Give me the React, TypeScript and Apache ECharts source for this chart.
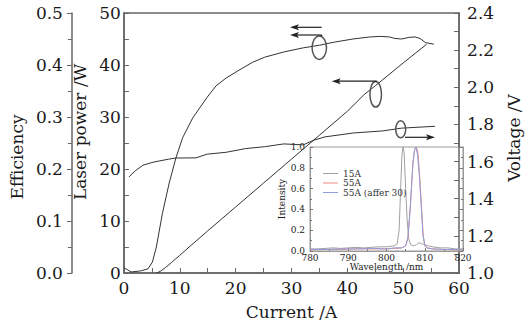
import React, { useEffect, useRef } from "react";
import * as echarts from "echarts";

const FONT = "DejaVu Serif";
const AXIS = "#666";
const TXT = "#1a1a1a";

// Main chart: laser power vs current
const powerCurrent = [5.8, 6.5, 7.5, 8.5, 10, 12, 15, 20, 25, 30, 35, 40, 43, 45, 50, 54.2];
const powerWatts = [0, 0.3, 1.1, 2.0, 3.4, 5.3, 8.1, 12.7, 17.3, 21.9, 26.5, 31.1, 34.3, 36.0, 40.4, 44.0];

// Efficiency vs current
const effCurrent = [0, 0.5, 1.3, 3, 4.3, 5.1, 5.8, 6.9, 8.1, 9.3, 10.5, 12.3, 14.9, 16.5, 18.3, 20.6, 23, 25.2, 28.6, 32.1, 35, 37.7, 41, 44.1, 46, 47.5, 48.5, 49.7, 51, 52.1, 53, 54, 55.5];
const effValues = [0.01, 0.007, 0.002, 0.004, 0.008, 0.021, 0.05, 0.115, 0.173, 0.221, 0.26, 0.298, 0.338, 0.36, 0.375, 0.39, 0.405, 0.415, 0.425, 0.433, 0.438, 0.444, 0.45, 0.454, 0.455, 0.454, 0.451, 0.45, 0.453, 0.454, 0.451, 0.443, 0.44];

// Voltage vs current
const voltCurrent = [0.9, 2, 3.4, 5, 6.3, 8, 9.3, 12.9, 14.9, 18.3, 21.8, 25.2, 28.6, 32.1, 34, 36, 41.1, 46.3, 49.7, 55.7];
const voltValues = [1.517, 1.55, 1.58, 1.595, 1.603, 1.613, 1.619, 1.62, 1.64, 1.65, 1.67, 1.68, 1.695, 1.69, 1.715, 1.733, 1.754, 1.765, 1.78, 1.79];

// Inset spectra
const wl15 = [780, 782, 784, 786, 788, 790, 792, 794, 796, 798, 800, 801, 802, 802.8, 803.3, 803.7, 804.0, 804.3, 804.6, 805.0, 805.4, 805.8, 806.3, 807, 807.8, 808.5, 809.2, 810, 811, 812, 814, 816, 818, 820];
const int15 = [0.02, 0.02, 0.025, 0.03, 0.025, 0.03, 0.035, 0.03, 0.035, 0.04, 0.04, 0.045, 0.05, 0.07, 0.2, 0.6, 0.9, 1.0, 0.95, 0.6, 0.3, 0.12, 0.06, 0.05, 0.06, 0.08, 0.07, 0.06, 0.05, 0.04, 0.03, 0.03, 0.02, 0.02];

const wl55 = [780, 784, 788, 792, 796, 800, 802, 804, 805, 805.6, 806.2, 806.9, 807.4, 807.8, 808.2, 808.7, 809.2, 809.6, 810, 810.6, 812, 815, 818, 820];
const int55 = [0.01, 0.015, 0.015, 0.02, 0.02, 0.02, 0.025, 0.03, 0.05, 0.12, 0.4, 0.85, 0.98, 1.0, 0.95, 0.7, 0.4, 0.15, 0.05, 0.03, 0.02, 0.015, 0.01, 0.01];

const wl55b = [780, 784, 788, 792, 796, 800, 802, 804, 805, 805.6, 806.2, 806.9, 807.3, 807.7, 808.1, 808.6, 809.1, 809.5, 810, 810.6, 812, 815, 818, 820];
const int55b = [0.015, 0.015, 0.02, 0.02, 0.025, 0.02, 0.03, 0.03, 0.05, 0.13, 0.42, 0.83, 0.97, 1.0, 0.93, 0.72, 0.42, 0.16, 0.06, 0.03, 0.02, 0.015, 0.015, 0.01];

const legendNames = ["15A", "55A", "55A (affer 30)"];
const spectraColors = ["#a0a0a0", "#e8897c", "#8f9ddb"];

const zip = (xs: number[], ys: number[]) => xs.map((x, i) => [x, ys[i]]);

function arrow(x1: number, y1: number, x2: number, y2: number) {
  const dx = x2 - x1;
  const dy = y2 - y1;
  const len = Math.sqrt(dx * dx + dy * dy);
  const ux = dx / len;
  const uy = dy / len;
  const hl = 9;
  const hw = 3;
  const bx = x2 - ux * hl;
  const by = y2 - uy * hl;
  return [
    {
      type: "line",
      shape: { x1, y1, x2: bx + ux * 2, y2: by + uy * 2 },
      style: { stroke: "#222", lineWidth: 1.2 },
      z: 100,
    },
    {
      type: "polygon",
      shape: {
        points: [
          [x2, y2],
          [bx - uy * hw, by + ux * hw],
          [bx + ux * 2, by + uy * 2],
          [bx + uy * hw, by - ux * hw],
        ],
      },
      style: { fill: "#222" },
      z: 100,
    },
  ];
}

function ellipse(cx: number, cy: number, rx: number, ry: number) {
  return {
    type: "ellipse",
    shape: { cx, cy, rx, ry },
    style: { fill: "none", stroke: "#555", lineWidth: 1.5 },
    z: 100,
  };
}

const mainLabel = { fontSize: 17, fontFamily: FONT, color: TXT };
const nameStyle = { fontSize: 17, fontFamily: FONT, color: TXT };
const insetLabel = { fontSize: 9, fontFamily: FONT, color: TXT };

export default function App() {
  const ref = useRef<HTMLDivElement>(null);
  useEffect(() => {
    if (!ref.current) return;
    const chart = echarts.init(ref.current, undefined, { renderer: "svg" });
    const option: any = {
      animation: false,
      backgroundColor: "#fff",
      textStyle: { fontFamily: FONT },
      grid: [
        { left: 123, top: 13, width: 350, height: 260, show: true, borderColor: AXIS, borderWidth: 1.5, backgroundColor: "transparent" },
        { left: 310, top: 147, width: 153, height: 104, show: true, borderColor: "#999", borderWidth: 1, backgroundColor: "#fff" },
      ],
      legend: {
        data: legendNames,
        left: 318,
        top: 164,
        orient: "vertical",
        icon: "rect",
        itemWidth: 15,
        itemHeight: 1,
        itemGap: 0.5,
        textStyle: { fontSize: 9, fontFamily: FONT, color: "#333" },
      },
      xAxis: [
        {
          type: "value",
          gridIndex: 0,
          min: 0,
          max: 60,
          interval: 10,
          name: "Current /A",
          nameLocation: "middle",
          nameGap: 30,
          nameTextStyle: nameStyle,
          axisLine: { show: true, lineStyle: { color: AXIS, width: 1.5 } },
          axisTick: { inside: true, length: 5, lineStyle: { color: AXIS } },
          minorTick: { show: true, splitNumber: 2, length: 5, lineStyle: { color: AXIS } },
          axisLabel: { ...mainLabel, margin: 6 },
          splitLine: { show: false },
        },
        {
          type: "value",
          gridIndex: 1,
          min: 780,
          max: 820,
          interval: 10,
          name: "Wavelength /nm",
          nameLocation: "middle",
          nameGap: 8,
          nameTextStyle: insetLabel,
          axisLine: { show: true, lineStyle: { color: "#999", width: 1 } },
          axisTick: { inside: true, length: 3, lineStyle: { color: "#777" } },
          minorTick: { show: true, splitNumber: 2, length: 2, lineStyle: { color: "#777" } },
          axisLabel: { ...insetLabel, margin: 2 },
          splitLine: { show: false },
        },
      ],
      yAxis: [
        {
          type: "value",
          gridIndex: 0,
          position: "left",
          min: 0,
          max: 50,
          interval: 10,
          name: "Laser power /W",
          nameLocation: "middle",
          nameGap: 28,
          nameRotate: 90,
          nameTextStyle: { ...nameStyle, padding: [0, 0, 0, 22] },
          axisLine: { show: true, lineStyle: { color: AXIS, width: 1.5 } },
          axisTick: { inside: true, length: 5, lineStyle: { color: AXIS } },
          minorTick: { show: true, splitNumber: 2, length: 5, lineStyle: { color: AXIS } },
          axisLabel: { ...mainLabel, margin: 3 },
          splitLine: { show: false },
        },
        {
          type: "value",
          gridIndex: 0,
          position: "left",
          offset: 52,
          min: 0,
          max: 0.5,
          interval: 0.1,
          name: "Efficiency",
          nameLocation: "middle",
          nameGap: 45,
          nameRotate: 90,
          nameTextStyle: { ...nameStyle, padding: [0, 28, 0, 0] },
          axisLine: { show: true, lineStyle: { color: AXIS, width: 1.5 } },
          axisTick: { inside: false, length: 5, lineStyle: { color: AXIS } },
          minorTick: { show: true, splitNumber: 2, length: 4, lineStyle: { color: AXIS } },
          axisLabel: { ...mainLabel, margin: 9, formatter: (v: number) => v.toFixed(1) },
          splitLine: { show: false },
        },
        {
          type: "value",
          gridIndex: 0,
          position: "right",
          min: 1.0,
          max: 2.4,
          interval: 0.2,
          name: "Voltage /V",
          nameLocation: "middle",
          nameGap: 38,
          nameRotate: 90,
          nameTextStyle: { ...nameStyle, padding: [0, 0, 0, 10] },
          axisLine: { show: true, lineStyle: { color: AXIS, width: 1.5 } },
          axisTick: { inside: true, length: 5, lineStyle: { color: AXIS } },
          minorTick: { show: true, splitNumber: 2, length: 5, lineStyle: { color: AXIS } },
          axisLabel: { ...mainLabel, margin: 8, formatter: (v: number) => v.toFixed(1) },
          splitLine: { show: false },
        },
        {
          type: "value",
          gridIndex: 1,
          position: "left",
          min: 0,
          max: 1.0,
          interval: 0.2,
          name: "Intensity",
          nameLocation: "middle",
          nameGap: 22,
          nameRotate: 90,
          nameTextStyle: insetLabel,
          axisLine: { show: true, lineStyle: { color: "#999", width: 1 } },
          axisTick: { inside: true, length: 3, lineStyle: { color: "#777" } },
          minorTick: { show: true, splitNumber: 2, length: 2, lineStyle: { color: "#777" } },
          axisLabel: { ...insetLabel, margin: 5, formatter: (v: number) => v.toFixed(1) },
          splitLine: { show: false },
        },
        {
          type: "value",
          gridIndex: 1,
          position: "right",
          min: 0,
          max: 1.0,
          interval: 0.2,
          axisLine: { show: true, lineStyle: { color: "#999", width: 1 } },
          axisTick: { inside: true, length: 3, lineStyle: { color: "#777" } },
          minorTick: { show: true, splitNumber: 2, length: 2, lineStyle: { color: "#777" } },
          axisLabel: { show: false },
          splitLine: { show: false },
        },
      ],
      series: [
        {
          name: "Laser power",
          type: "line",
          xAxisIndex: 0,
          yAxisIndex: 0,
          data: zip(powerCurrent, powerWatts),
          symbol: "none",
          lineStyle: { color: "#333", width: 1 },
        },
        {
          name: "Efficiency",
          type: "line",
          xAxisIndex: 0,
          yAxisIndex: 1,
          data: zip(effCurrent, effValues),
          symbol: "none",
          lineStyle: { color: "#333", width: 1 },
        },
        {
          name: "Voltage",
          type: "line",
          xAxisIndex: 0,
          yAxisIndex: 2,
          data: zip(voltCurrent, voltValues),
          symbol: "none",
          lineStyle: { color: "#333", width: 1 },
        },
        {
          name: legendNames[0],
          type: "line",
          xAxisIndex: 1,
          yAxisIndex: 3,
          data: zip(wl15, int15),
          symbol: "none",
          color: spectraColors[0],
          lineStyle: { color: spectraColors[0], width: 1 },
        },
        {
          name: legendNames[1],
          type: "line",
          xAxisIndex: 1,
          yAxisIndex: 3,
          data: zip(wl55, int55),
          symbol: "none",
          color: spectraColors[1],
          lineStyle: { color: spectraColors[1], width: 1 },
        },
        {
          name: legendNames[2],
          type: "line",
          xAxisIndex: 1,
          yAxisIndex: 3,
          data: zip(wl55b, int55b),
          symbol: "none",
          color: spectraColors[2],
          lineStyle: { color: spectraColors[2], width: 1 },
        },
      ],
      graphic: [
        ellipse(319.3, 47.7, 7.2, 11.7),
        ...arrow(321.7, 27.3, 290, 27.3),
        ...arrow(321.7, 35, 290, 35),
        { type: "line", shape: { x1: 321.7, y1: 35, x2: 321.7, y2: 36.5 }, style: { stroke: "#222", lineWidth: 1.2 }, z: 100 },
        ellipse(375.7, 94.3, 5.8, 12.8),
        ...arrow(376.7, 81.2, 331.7, 81.2),
        ellipse(400.7, 129.3, 5, 8.5),
        ...arrow(405, 137.3, 435, 137.3),
      ],
    };
    chart.setOption(option);
    return () => chart.dispose();
  }, []);
  return (
    <div
      ref={ref}
      style={{ position: "fixed", left: 0, top: 0, width: 530, height: 325, background: "#fff" }}
    />
  );
}
